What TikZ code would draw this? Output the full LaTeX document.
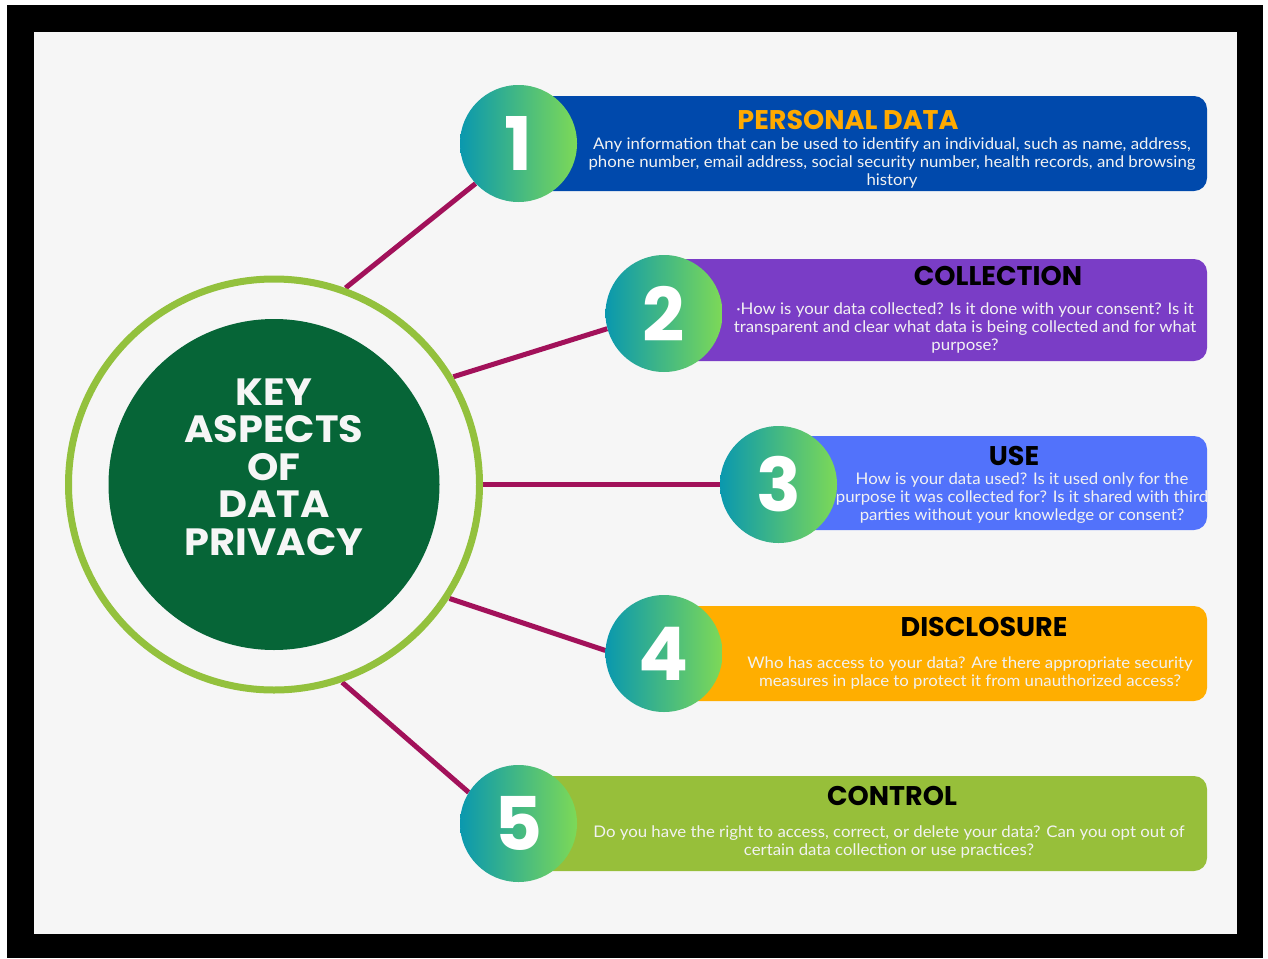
\documentclass[tikz,border=0pt]{standalone}
\usepackage{fontspec}
\setmainfont{Lato}
\newfontfamily\popfont{Poppins}
\newfontfamily\widepop[FakeStretch=1.05]{Poppins}
\newfontfamily\bodyfont[FakeStretch=1.05]{Lato}
\definecolor{bgc}{HTML}{F6F6F6}
\definecolor{linkc}{HTML}{A2115A}
\definecolor{ringc}{HTML}{93C13D}
\definecolor{corec}{HTML}{066537}
\definecolor{tealc}{HTML}{0A98AE}
\definecolor{limec}{HTML}{7DD957}
\definecolor{boxa}{HTML}{0049AC}
\definecolor{boxb}{HTML}{7A3DC6}
\definecolor{boxc}{HTML}{5272FB}
\definecolor{boxd}{HTML}{FFAE00}
\definecolor{boxe}{HTML}{97BF3A}
\definecolor{ttlorange}{HTML}{FFAA00}
\definecolor{bodyc}{HTML}{F2F2F2}
\pgfdeclarelayer{linklayer}
\pgfdeclarelayer{backdrop}
\pgfsetlayers{backdrop,linklayer,main}
\begin{document}
\begin{tikzpicture}[x=1pt,y=-1pt,
  link/.style={draw=linkc, line width=5pt},
  numc/.style={circle, minimum size=117pt, inner sep=0pt, text=white,
    left color=tealc, right color=limec,
    font=\popfont\bfseries\fontsize{74}{74}\selectfont},
  card/.style={rounded corners=13pt},
  ttl/.style={font=\popfont\bfseries\fontsize{27}{27}\selectfont, inner sep=0pt},
  body/.style={font=\bodyfont\fontsize{16}{18}\selectfont, text=bodyc, align=center, inner sep=0pt}]
\useasboundingbox (0,0) rectangle (1268,958);
\begin{pgfonlayer}{backdrop}
\fill[white] (0,0) rectangle (1268,958);
\fill[black] (7,5) rectangle (1263,958);
\fill[bgc] (34,32) rectangle (1237,934);
\end{pgfonlayer}

% cards
\fill[boxa, card] (518,96) rectangle (1207,191);
\fill[boxb, card] (664,259) rectangle (1207,361);
\fill[boxc, card] (778,436) rectangle (1207,530);
\fill[boxd, card] (664,606) rectangle (1207,701);
\fill[boxe, card] (518,776) rectangle (1207,871);

% central circles
\node[circle, minimum size=418pt, inner sep=0pt] (ring) at (274,484.5) {};
\draw[ringc, line width=7pt] (ring.center) circle (205.5pt);
\node[circle, fill=corec, minimum size=331pt, inner sep=0pt] (core) at (ring.center) {};
\node[text=bgc, align=center, inner sep=0pt, font=\widepop\bfseries\fontsize{38}{37.5}\selectfont] (ctext) at (274,467) {KEY\\ASPECTS\\OF\\DATA\\PRIVACY};

% number circles
\node[numc] (c1) at (518.5,143.5) {1};
\node[numc] (c2) at (664,313.5) {2};
\node[numc] (c3) at (778.5,484.5) {3};
\node[numc] (c4) at (664,653.5) {4};
\node[numc] (c5) at (518.5,823.5) {5};

% connectors
\begin{pgfonlayer}{linklayer}
\draw[link] (ring.70) -- (c1.223);
\draw[link] (ring.31) -- (c2.195);
\draw[link] (ring.0) -- (c3.180);
\draw[link] (ring.-33) -- (c4.177);
\draw[link] (ring.-71) -- (c5.148);
\end{pgfonlayer}

% titles
\node[ttl, text=ttlorange] (t1) at (848,120) {PERSONAL DATA};
\node[ttl, text=black] (t2) at (998,276) {COLLECTION};
\node[ttl, text=black] (t3) at (1014,456) {USE};
\node[ttl, text=black] (t4) at (984,627) {DISCLOSURE};
\node[ttl, text=black] (t5) at (892,796) {CONTROL};

% bodies
\node[body] (b1) at (892,163) {Any information that can be used to identify an individual, such as name, address,\\phone number, email address, social security number, health records, and browsing\\history};
\node[body] (b2) at (965,328) {·How is your data collected? Is it done with your consent? Is it\\transparent and clear what data is being collected and for what\\purpose?};
\node[body] (b3) at (1022,498) {How is your data used? Is it used only for the\\purpose it was collected for? Is it shared with third\\parties without your knowledge or consent?};
\node[body] (b4) at (970,673) {Who has access to your data? Are there appropriate security\\measures in place to protect it from unauthorized access?};
\node[body] (b5) at (889,842) {Do you have the right to access, correct, or delete your data? Can you opt out of\\certain data collection or use practices?};
\end{tikzpicture}
\end{document}
